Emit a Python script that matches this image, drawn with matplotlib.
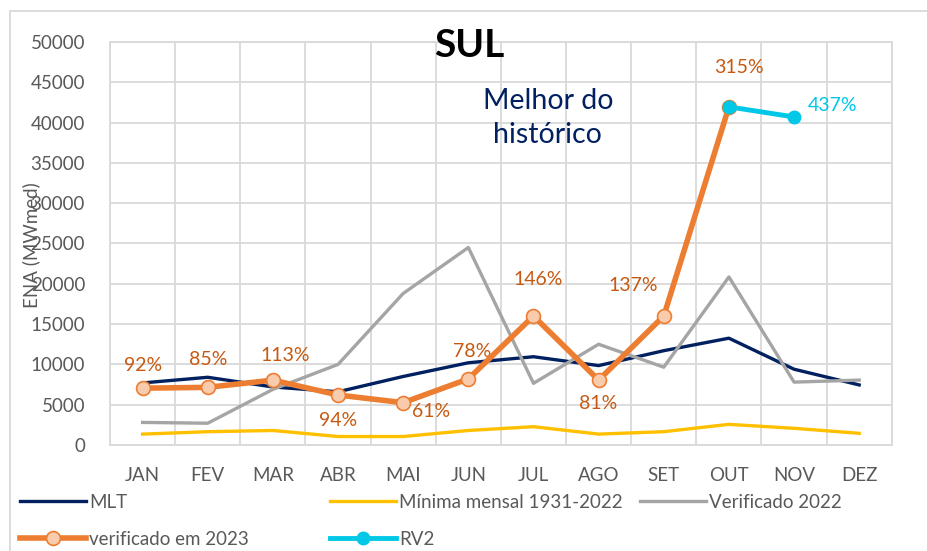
import numpy as np
import matplotlib.pyplot as plt
from matplotlib.patches import Rectangle

plt.rcParams['font.family'] = ['Lato', 'DejaVu Sans']

meses = ["JAN", "FEV", "MAR", "ABR", "MAI", "JUN", "JUL", "AGO", "SET", "OUT", "NOV", "DEZ"]
mlt = [7700, 8400, 7200, 6600, 8500, 10200, 10950, 9850, 11700, 13250, 9400, 7450]
minima = [1350, 1650, 1800, 1050, 1050, 1800, 2270, 1350, 1650, 2560, 2070, 1450]
verif_2022 = [2800, 2700, 6900, 10000, 18800, 24500, 7650, 12500, 9650, 20850, 7800, 8050]
verif_2023 = [7050, 7150, 8050, 6200, 5250, 8200, 16000, 8050, 16000, 41950]
rv2 = [41950, 40700]
pct_2023 = ["92%", "85%", "113%", "94%", "61%", "78%", "146%", "81%", "137%", "315%"]
pct_rv2 = "437%"

x = np.arange(len(meses))

fig = plt.figure(figsize=(9.27, 5.51), dpi=100)
ax = fig.add_axes([0.1187, 0.1924, 0.962 - 0.1187, 0.9238 - 0.1924])

h_mlt, = ax.plot(x, mlt, color="#002060", lw=2.4, label="MLT", zorder=3)
h_min, = ax.plot(x, minima, color="#FFC000", lw=2.4, label="Mínima mensal 1931-2022", zorder=3)
h_v22, = ax.plot(x, verif_2022, color="#A5A5A5", lw=2.4, label="Verificado 2022", zorder=3)
h_v23, = ax.plot(x[:len(verif_2023)], verif_2023, color="#ED7D31", lw=4, marker="o",
                 ms=10, mfc="#F8CBAD", mec="#ED7D31", mew=1.2, label="verificado em 2023", zorder=4)
h_rv2, = ax.plot(x[9:11], rv2, color="#00C8E6", lw=3.5, marker="o", ms=9,
                 label="RV2", zorder=5)

# rótulos de percentual (deslocamento em pontos)
offs = [(0, 16.5), (0, 20), (9, 18), (0, -18), (20, -6.5), (3, 19.5), (3.6, 26.6), (0, -17), (-22, 22), (7, 28)]
lab_col = "#C65911"
for i, (p, o) in enumerate(zip(pct_2023, offs)):
    ax.annotate(p, (x[i], verif_2023[i]), xytext=o, textcoords="offset points",
                ha="center", va="center", color=lab_col, fontsize=14)
ax.annotate(pct_rv2, (x[10], rv2[1]), xytext=(28, 8), textcoords="offset points",
            ha="center", va="center", color="#00C8E6", fontsize=14)

ax.text(5.02, 49600, "SUL", fontsize=28, fontweight="bold", ha="center", va="center", color="black")
ax.text(6.22, 40600, "Melhor do\nhistórico", fontsize=20.5, ha="center", va="center",
        color="#002060", linespacing=1.4)

ax.set_xlim(-0.5, 11.5)
ax.set_ylim(0, 50000)
ax.set_yticks(np.arange(0, 50001, 5000))
ax.set_xticks(x)
ax.set_xticklabels(meses)
ax.set_xticks(np.arange(-0.5, 12, 1), minor=True)
ax.grid(which="minor", axis="x", color="#D9D9D9", lw=1.3)
ax.grid(which="major", axis="y", color="#D9D9D9", lw=1.3)
ax.set_axisbelow(True)
ax.tick_params(which="both", length=0)
ax.tick_params(axis="x", pad=16, labelsize=13.5, labelcolor="#595959")
ax.tick_params(axis="y", pad=18, labelsize=13.5, labelcolor="#595959")
for s in ax.spines.values():
    s.set_color("#D9D9D9")
    s.set_linewidth(1.3)

fig.text(0.034, 0.555, "ENA (MWmed)", rotation=90, ha="center", va="center",
         fontsize=13.5, color="#595959")

# legenda em três colunas de largura fixa, como no Excel
cols = [([h_mlt, h_v23], ["MLT", "verificado em 2023"], 20),
        ([h_min, h_rv2], ["Mínima mensal 1931-2022", "RV2"], 330),
        ([h_v22], ["Verificado 2022"], 640)]
for hs, ls, px in cols:
    fig.legend(hs, ls, loc="upper left", bbox_to_anchor=(px / 927, 1 - 494 / 551),
               frameon=False, fontsize=13.5, labelcolor="#595959", handlelength=3.5,
               handletextpad=0.2, borderaxespad=0, borderpad=0, labelspacing=1.05)

fig.patches.append(Rectangle((0.011, -0.01), 0.99, 0.99, transform=fig.transFigure,
                             fill=False, edgecolor="#D9D9D9", lw=1.3))

plt.savefig("out.png", dpi=100)
